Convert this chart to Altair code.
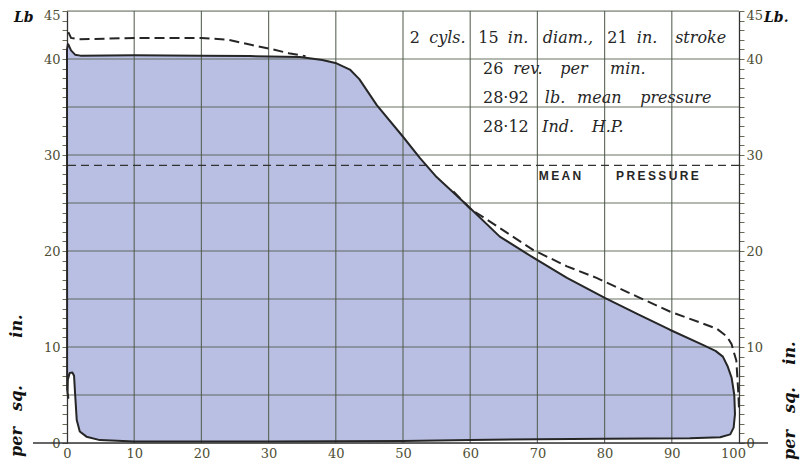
import altair as alt
import pandas as pd

# ---- data ----
outline_x = [0.15, 0.6, 1.2, 2, 10, 20, 27.2, 34.7, 38, 40.1, 42.1, 43.5, 46.1, 50, 52.5,
             55, 59.5, 64.4, 69.4, 74.4, 80.1, 85, 89.7, 94.7, 96.5, 97.6, 98.3, 98.9, 99.3, 99.4,
             99.2, 98.7, 97.2, 92.7, 80, 70, 60, 50, 30, 10, 4.9, 2.9, 1.9, 1.45, 1.2,
             1.05, 0.8, 0.4, 0.12, 0.08, 0.2, 0.02, 0.0, 0.15]
outline_y = [41.6, 40.9, 40.45, 40.35, 40.4, 40.35, 40.3, 40.2, 39.9, 39.55, 38.9, 37.9, 35.2, 31.9, 29.7,
             27.7, 24.8, 21.5, 19.3, 17.2, 15.1, 13.4, 11.8, 10.2, 9.6, 9.0, 8.0, 6.8, 5.0, 3.0,
             1.6, 0.9, 0.6, 0.5, 0.45, 0.4, 0.3, 0.2, 0.15, 0.15, 0.3, 0.66, 1.2, 2.4, 5.2,
             7.0, 7.35, 7.3, 6.6, 5.2, 4.7, 5.6, 41.0, 41.6]

dash1_x = [0.2, 0.6, 1.7, 10, 20, 24, 27.2, 30, 33, 35.5]
dash1_y = [42.8, 42.2, 42.05, 42.2, 42.2, 42.0, 41.5, 41.1, 40.6, 40.3]
dash2_x = [57.5, 60, 64.4, 69.4, 74.4, 78.8, 85, 89.7, 94, 96.7, 98.2, 98.9, 99.3, 99.6, 99.9, 100]
dash2_y = [26.2, 24.4, 22.4, 20.1, 18.4, 17.2, 15.2, 13.7, 12.6, 11.9, 11.1, 10.3, 9.3, 8.6, 5.2, 3.6]

mean_pressure = [28.92]

grid_x = [10, 20, 30, 40, 50, 60, 70, 80, 90]
grid_y = [5, 10, 15, 20, 25, 30, 35, 40, 45]
x_labels = list(range(0, 101, 10))
y_ticks = list(range(0, 46))
y_labels = [0, 10, 20, 30, 40, 45]

num_text = ["2", "15", "21", "26", "28\u00b792", "28\u00b712"]
num_x = [51.0, 61.2, 80.4, 61.9, 61.9, 61.9]
num_y = [41.7, 41.7, 41.7, 38.4, 35.4, 32.4]
word_text = ["cyls.", "in.", "diam.,", "in.", "stroke", "rev.", "per", "min.",
             "lb.", "mean", "pressure", "Ind.", "H.P."]
word_x = [53.9, 65.6, 70.8, 84.8, 90.5, 66.4, 73.4, 80.8, 71.1, 75.9, 85.3, 70.7, 78.1]
word_y = [41.7] * 5 + [38.4] * 3 + [35.4] * 3 + [32.4] * 2
mp_text = ["M\u2009E\u2009A\u2009N", "P\u2009R\u2009E\u2009S\u2009S\u2009U\u2009R\u2009E"]
mp_x = [70.2, 81.7]
mp_y = [27.4, 27.4]

# ---- tables ----
outline = pd.DataFrame({"x": outline_x, "y": outline_y, "i": list(range(len(outline_x)))})
dashed = pd.DataFrame({
    "x": dash1_x + dash2_x,
    "y": dash1_y + dash2_y,
    "seg": ["a"] * len(dash1_x) + ["b"] * len(dash2_x),
    "i": list(range(len(dash1_x) + len(dash2_x))),
})
gx = pd.DataFrame({"x": grid_x})
gy = pd.DataFrame({"y": grid_y})
mp = pd.DataFrame({"y": mean_pressure})
nums = pd.DataFrame({"x": num_x, "y": num_y, "t": num_text})
words = pd.DataFrame({"x": word_x, "y": word_y, "t": word_text})
mpl = pd.DataFrame({"x": mp_x, "y": mp_y, "t": mp_text})
one = pd.DataFrame({"k": [0]})

W, H = 672, 432
SERIF = "DejaVu Serif"
LABEL_COLOR = "#4e4e34"
INK = "#262626"
GRID = "#4f5a4a"

xs = alt.Scale(domain=[0, 100], nice=False, zero=False)
ys = alt.Scale(domain=[0, 45], nice=False, zero=False)

label_expr = "indexof([0,10,20,30,40,45], datum.value) >= 0 ? datum.label : ''"
top_offset = {"condition": {"test": "datum.value == 45", "value": 4}, "value": 0}
end_offset = {"condition": {"test": "datum.value == 100", "value": -6}, "value": 0}

x_axis = alt.Axis(values=x_labels, ticks=False, domain=False, grid=False, title=None,
                  labelFlush=False, labelOverlap=False, labelPadding=4,
                  labelOffset=end_offset,
                  labelFont=SERIF, labelFontSize=13, labelColor=LABEL_COLOR)

left_axis = alt.Axis(orient="left", values=y_ticks, labelExpr=label_expr, tickSize=5,
                     tickColor="#6a6a55", tickWidth=1, domainColor="#333", domainWidth=1.3,
                     grid=False, title=None, labelFlush=False, labelOverlap=False,
                     labelOffset=top_offset,
                     labelPadding=2, labelFont=SERIF, labelFontSize=13, labelColor=LABEL_COLOR)
right_axis = alt.Axis(orient="right", values=y_ticks, labelExpr=label_expr, tickSize=5,
                      tickColor="#6a6a55", tickWidth=1, domainColor="#333", domainWidth=1.3,
                      grid=False, title=None, labelFlush=False, labelOverlap=False,
                      labelOffset=top_offset,
                      labelPadding=2, labelFont=SERIF, labelFontSize=13, labelColor=LABEL_COLOR)

X = alt.X("x:Q", scale=xs, axis=x_axis)
Xn = alt.X("x:Q", scale=xs, axis=None)
Yn = alt.Y("y:Q", scale=ys, axis=None)

fill = alt.Chart(outline).mark_line(fill="#b9bfe2", strokeOpacity=0, strokeWidth=0).encode(
    x=X, y=alt.Y("y:Q", scale=ys, axis=left_axis), order="i:Q")

vgrid = alt.Chart(gx).mark_rule(color=GRID, strokeWidth=1.2, opacity=0.85).encode(x=Xn)
hgrid = alt.Chart(gy).mark_rule(color=GRID, strokeWidth=1.2, opacity=0.85).encode(
    y=alt.Y("y:Q", scale=ys, axis=right_axis))

zero_line = alt.Chart(one).mark_rule(color="#333", strokeWidth=1.5).encode(
    x=alt.value(-34), x2=alt.value(W + 29), y=alt.datum(0, scale=ys, axis=None))

mean_line = alt.Chart(mp).mark_rule(color="#333", strokeWidth=1.3, strokeDash=[8, 5]).encode(y=Yn)

stroke = alt.Chart(outline).mark_line(color=INK, strokeWidth=2, strokeJoin="round").encode(
    x=Xn, y=Yn, order="i:Q")

dash = alt.Chart(dashed).mark_line(color=INK, strokeWidth=2, strokeDash=[10, 5]).encode(
    x=Xn, y=Yn, detail="seg:N", order="i:Q")

num_layer = alt.Chart(nums).mark_text(font=SERIF, fontSize=16, color=INK, align="left",
                                      baseline="alphabetic").encode(x=Xn, y=Yn, text="t:N")
word_layer = alt.Chart(words).mark_text(font=SERIF, fontSize=16, fontStyle="italic", color=INK,
                                        align="left", baseline="alphabetic").encode(
    x=Xn, y=Yn, text="t:N")
mp_layer = alt.Chart(mpl).mark_text(font="Liberation Sans", fontSize=12, fontWeight="bold",
                                    color=INK, align="left", baseline="alphabetic").encode(
    x=Xn, y=Yn, text="t:N")


def vtext(txt, px, py, angle):
    return alt.Chart(one).mark_text(text=txt, font=SERIF, fontSize=16, fontWeight="bold",
                                    fontStyle="italic", color="#111", angle=angle,
                                    align="center", baseline="middle").encode(
        x=alt.value(px), y=alt.value(py))


def ptext(txt, px, py):
    return alt.Chart(one).mark_text(text=txt, font=SERIF, fontSize=14, fontWeight="bold",
                                    fontStyle="italic", color="#111", align="left",
                                    baseline="middle").encode(x=alt.value(px), y=alt.value(py))


side = [
    vtext("per", -50, 431, 270), vtext("sq.", -50, 387, 270), vtext("in.", -50, 315, 270),
    vtext("per", 723, 434, 270), vtext("sq.", 723, 389, 270), vtext("in.", 723, 342, 270),
    ptext("Lb", -53, 7), ptext("Lb.", 697, 7),
]

chart = alt.layer(
    fill, vgrid, hgrid, zero_line, mean_line, stroke, dash, num_layer, word_layer, mp_layer, *side
).resolve_axis(x="independent", y="independent").properties(
    width=W, height=H,
    padding={"left": 59, "top": 3, "right": 62, "bottom": 18},
    autosize=alt.AutoSizeParams(type="none"),
).configure_view(stroke=None).configure(background="white")

chart.save("out.html", embed_options={"renderer": "svg", "actions": False})
